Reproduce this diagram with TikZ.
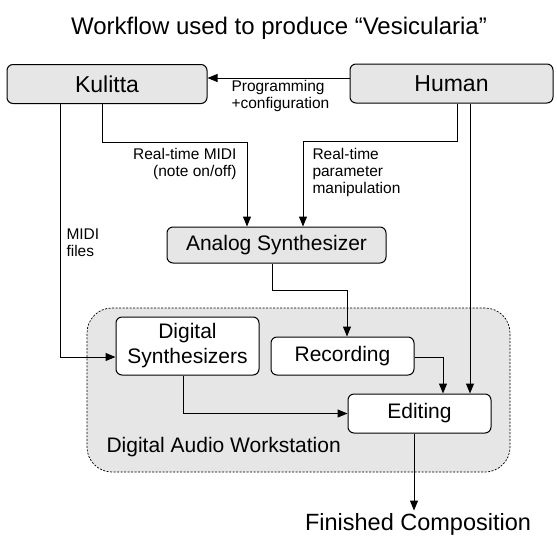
\documentclass[tikz,border=0pt]{standalone}
\usepackage{fontspec}
\setmainfont{Liberation Sans}
\usetikzlibrary{arrows.meta,calc}
\begin{document}
\begin{tikzpicture}[x=1pt,y=-1pt,
  line width=1pt,
  arr/.style={-{Triangle[length=10pt,width=8pt]}},
  graybox/.style={draw, rounded corners=6pt, fill=boxgray, inner sep=0pt},
  whitebox/.style={draw, rounded corners=6pt, fill=white, inner sep=0pt, align=center},
  lbl/.style={font=\fontsize{15.5}{17}\selectfont, inner sep=0pt}]
\definecolor{boxgray}{HTML}{E6E6E6}
\useasboundingbox (0,0) rectangle (557,547);
\node[font=\fontsize{24}{28}\selectfont] (title) at (279,28) {Workflow used to produce “Vesicularia”};
\node[graybox, minimum width=200pt, minimum height=39pt, font=\fontsize{23}{27}\selectfont] (kul) at (107,84) {Kulitta};
\node[graybox, minimum width=203pt, minimum height=39pt, font=\fontsize{23}{27}\selectfont] (hum) at (451.5,83.5) {Human};
\node[graybox, minimum width=219pt, minimum height=36pt, font=\fontsize{21}{24}\selectfont] (ana) at (276.5,245) {Analog Synthesizer};
\node[draw, dashed, dash pattern=on 2pt off 1.5pt, line width=0.7pt, rounded corners=25pt, fill=boxgray, minimum width=423pt, minimum height=164pt] (daw) at (298.5,390) {};
\node[whitebox, minimum width=143pt, minimum height=58pt, font=\fontsize{21}{25}\selectfont] (dig) at (187.5,346) {Digital\\Synthesizers};
\node[whitebox, minimum width=143pt, minimum height=38pt, font=\fontsize{21}{24}\selectfont] (rec) at (342.5,356) {Recording};
\node[whitebox, minimum width=143pt, minimum height=39pt, font=\fontsize{21}{24}\selectfont] (edi) at (419.5,413.5) {Editing};
\node[font=\fontsize{21}{24}\selectfont, anchor=west, inner sep=0pt] (dawl) at (106,447) {Digital Audio Workstation};
\node[font=\fontsize{23.5}{27}\selectfont, inner sep=0pt] (fin) at (418,524) {Finished Composition};
% labels
\node[lbl, anchor=west, align=left] (prog) at (231,96) {Programming\\+configuration};
\node[lbl, anchor=north east, align=right] (rtm) at (237,148) {Real-time MIDI\\(note on/off)};
\node[lbl, anchor=north west, align=left] (rtp) at (312,148) {Real-time\\parameter\\manipulation};
\node[lbl, anchor=north west, align=left] (mf) at (66,228) {MIDI\\files};
% coordinates
\coordinate (k1) at (60,0);
\coordinate (k2) at (102,0);
\coordinate (m1) at (247,142);
\coordinate (h1) at (457,0);
\coordinate (m2) at (303,141);
\coordinate (h2) at (470,0);
\coordinate (a1) at (272,290);
\coordinate (r1) at (347,0);
\coordinate (e1) at (443,0);
\coordinate (d1) at (183,0);
\coordinate (f1) at (414,0);
% connectors
\draw[arr] ([yshift=5.5pt]hum.west) -- ([yshift=5.5pt]hum.west -| kul.east);
\draw[arr] (kul.south -| k1) |- ([yshift=-11pt]dig.west);
\draw[arr] (kul.south -| k2) |- (m1) -- (ana.north -| m1);
\draw[arr] (hum.south -| h1) |- (m2) -- (ana.north -| m2);
\draw[arr] (hum.south -| h2) -- (edi.north -| h2);
\draw[arr] (ana.south -| a1) -- (a1) -| (rec.north -| r1);
\draw[arr] ([yshift=-1pt]rec.east) -| (edi.north -| e1);
\draw[arr] (dig.south -| d1) |- (edi.west);
\draw[arr] (edi.south -| f1) -- ([yshift=2pt]fin.north -| f1);
\end{tikzpicture}
\end{document}
